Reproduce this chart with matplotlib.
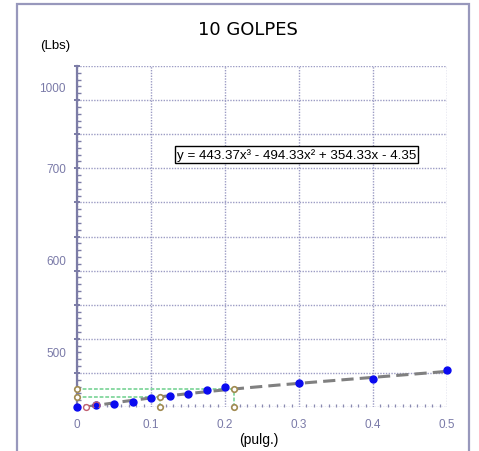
import numpy as np
import matplotlib.pyplot as plt
from matplotlib.patches import Rectangle
import matplotlib.transforms as mtransforms

# Measured points (deformation in pulg., load in Lbs)
x_pts = [0.0, 0.025, 0.05, 0.075, 0.1, 0.125, 0.15, 0.175, 0.2, 0.3, 0.4, 0.5]
y_pts = [0, 6, 10, 15, 25, 32, 38, 51, 60, 70, 82, 108]

# Origin-corrected start point
x_zero = [0.0125]
y_zero = [0]

# Cubic fit coefficients (highest power first)
fit_coef = [443.37, -494.33, 354.33, -4.35]
fit_range = [0.0125, 0.5]

# Reading guides at two deformations
guide_x = [0.112, 0.212]

# Y tick labels as printed on the axis
ylab_vals = [935, 698, 427, 158]
ylab_text = ['1000', '700', '600', '500']

x_ticks = [0, 0.1, 0.2, 0.3, 0.4, 0.5]
x_tick_labels = ['0', '0.1', '0.2', '0.3', '0.4', '0.5']

axis_col = '#7c7ca6'
grid_col = '#9c9cc4'
label_col = '#7a7aa8'

fig = plt.figure(figsize=(4.79, 4.52), dpi=100)
fig.patch.set_facecolor('white')

# Outer frame
fig.patches.append(Rectangle((17 / 479, -0.1), 452 / 479, 1 - 5 / 452 + 0.1,
                             transform=fig.transFigure, fill=False,
                             edgecolor='#9898bc', linewidth=1.6))

ax = fig.add_axes([77 / 479, 1 - 408 / 452, 370 / 479, 341 / 452])
ax.set_xlim(0, 0.5)
ax.set_ylim(0, 1000)

for side in ['top', 'right', 'bottom']:
    ax.spines[side].set_visible(False)
ax.spines['left'].set_color(axis_col)
ax.spines['left'].set_linewidth(1.6)

# Grid
ax.set_yticks(np.arange(0, 1001, 100))
ax.set_yticks(np.arange(0, 1001, 20), minor=True)
ax.set_xticks(x_ticks)
ax.set_xticks(np.arange(0, 0.5001, 0.01), minor=True)
ax.set_yticklabels([])
ax.set_xticklabels(x_tick_labels)
ax.grid(True, which='major', linestyle=(0, (1, 1)), color=grid_col, linewidth=1)
ax.tick_params(axis='y', which='major', length=4, width=1.4, color=axis_col,
               direction='inout')
ax.tick_params(axis='y', which='minor', length=3, width=1, color=axis_col,
               direction='in')
ax.tick_params(axis='x', which='major', length=0, labelsize=8.5, labelcolor=label_col,
               pad=8)
ax.tick_params(axis='x', which='minor', length=2.5, width=0.9, color='#8a8ab0',
               direction='in')
for lab in ax.get_xticklabels():
    lab.set_fontfamily('Liberation Sans')

# Printed y labels
trans = mtransforms.blended_transform_factory(ax.transAxes, ax.transData)
for v, t in zip(ylab_vals, ylab_text):
    ax.text(-0.03, v, t, transform=trans, ha='right', va='center',
            fontsize=8.5, color=label_col, family='Liberation Sans')

# Reading guides (green dashed)
poly = np.poly1d(fit_coef)
guide_y = [poly(g) for g in guide_x]
for gx, gy in zip(guide_x, guide_y):
    ax.plot([0, gx], [gy, gy], color='#6ccf8c', linestyle=(0, (2.5, 1.2)),
            linewidth=1.1, zorder=3)
    ax.plot([gx, gx], [0, gy], color='#6ccf8c', linestyle=(0, (2.5, 1.2)),
            linewidth=1.1, zorder=3)

# Fit curve
xf = np.linspace(fit_range[0], fit_range[1], 200)
ax.plot(xf, poly(xf), color='#808080', linestyle=(0, (4, 2)), linewidth=2.2,
        zorder=4)

# Data points
ax.plot(x_pts, y_pts, linestyle='none', marker='o', markersize=5,
        color='#0a0af0', zorder=5, clip_on=False)
ax.plot([x_pts[1]], [y_pts[1]], linestyle='none', marker='o', markersize=5,
        markerfacecolor='#0a0af0', markeredgecolor='#c06070', markeredgewidth=1,
        zorder=6)
ax.plot(x_zero, y_zero, linestyle='none', marker='o', markersize=4.2,
        markerfacecolor='white', markeredgecolor='#c06070', markeredgewidth=1,
        zorder=6, clip_on=False)

# Guide endpoints
gx_m = [0, 0, guide_x[0], guide_x[0], guide_x[1], guide_x[1]]
gy_m = [guide_y[0], guide_y[1], guide_y[0], 0, guide_y[1], 0]
ax.plot(gx_m, gy_m, linestyle='none', marker='o', markersize=4,
        markerfacecolor='white', markeredgecolor='#a08a50', markeredgewidth=1.2,
        zorder=7, clip_on=False)

# Equation box
ax.text(0.2966, 740, 'y = 443.37x³ - 494.33x² + 354.33x - 4.35', ha='center',
        va='center', fontsize=9.6, family='Liberation Sans', color='black',
        bbox=dict(boxstyle='square,pad=0.15', facecolor='white',
                  edgecolor='black', linewidth=1), zorder=8)

# Titles and axis units
fig.text(248 / 479, 1 - 30 / 452, '10 GOLPES', ha='center', va='center',
         fontsize=13, family='DejaVu Sans', color='black')
fig.text(55 / 479, 1 - 46 / 452, '(Lbs)', ha='center', va='center',
         fontsize=9.5, family='Liberation Sans', color='black')
fig.text(259 / 479, 1 - 440 / 452, '(pulg.)', ha='center', va='center',
         fontsize=10, family='Liberation Sans', color='black')

fig.savefig('out.png', dpi=100)
